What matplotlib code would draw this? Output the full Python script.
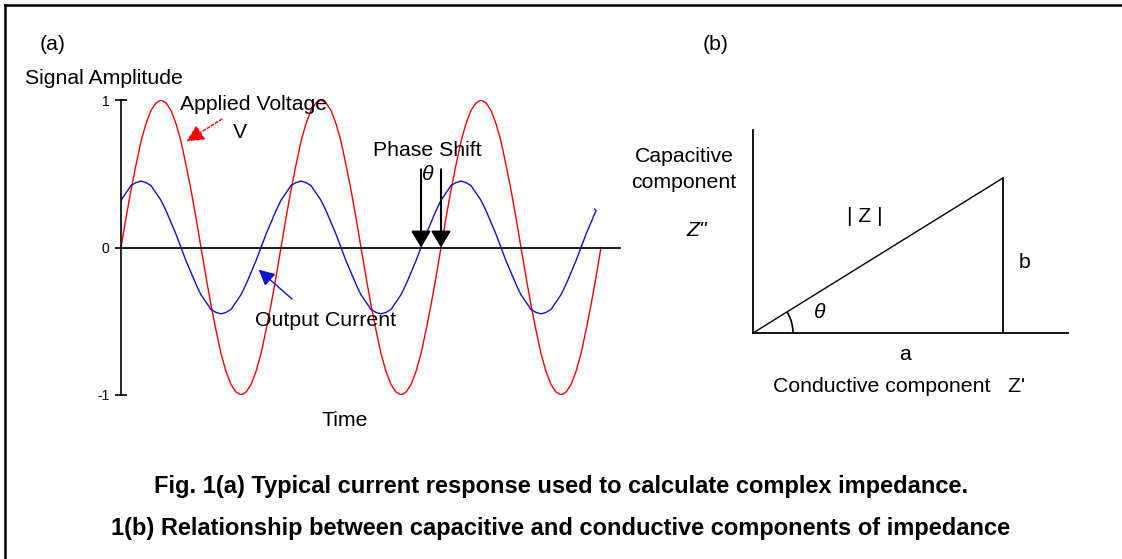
import numpy as np
import matplotlib
matplotlib.use("Agg")
import matplotlib.pyplot as plt
from matplotlib.lines import Line2D
from matplotlib.patches import Arc

plt.rcParams['font.family'] = ['Liberation Sans', 'DejaVu Sans']

# <codecell>
# data
# time is in periods of the applied voltage, one sample every 1/32 period
step = 1 / 32
n_cycles = 3
# one cycle of each trace (the picture repeats the same wave)
voltage_cycle = [0, 0.20, 0.39, 0.56, 0.72, 0.84, 0.93, 0.98,
                 1.0, 0.98, 0.93, 0.84, 0.72, 0.56, 0.39, 0.20,
                 0, -0.20, -0.39, -0.56, -0.72, -0.84, -0.93, -0.98,
                 -1.0, -0.98, -0.93, -0.84, -0.72, -0.56, -0.39, -0.20]
current_cycle = [0.32, 0.37, 0.42, 0.44, 0.45, 0.44, 0.42, 0.37,
                 0.32, 0.25, 0.17, 0.09, 0, -0.09, -0.17, -0.25,
                 -0.32, -0.37, -0.42, -0.44, -0.45, -0.44, -0.42, -0.37,
                 -0.32, -0.25, -0.17, -0.09, 0, 0.09, 0.17, 0.25]
voltage_end = 0
current_end = 0.26
current_end_t = 2.96
yticks = [-1, 0, 1]
ytick_labels = ['-1', '0', '1']
zero_current = 1.875   # current crosses zero (upward)
zero_voltage = 2.0     # voltage crosses zero (upward)

# impedance triangle
z_real = 1.0   # a
z_imag = 0.62  # b

voltage = voltage_cycle * n_cycles + [voltage_end]
current = current_cycle * n_cycles + [current_end]
t_v = np.arange(len(voltage)) * step
t_c = np.append(np.arange(len(current) - 1) * step, current_end_t)

# <codecell>
W, H = 1122, 559
fig = plt.figure(figsize=(W / 100, H / 100), dpi=100)

def px(x, y):
    return x / W, 1 - y / H

# frame (left and top only)
fig.add_artist(Line2D([5 / W, 5 / W], [0, 1 - 5 / H], color='black', lw=1.8))
fig.add_artist(Line2D([5 / W, 1], [1 - 5 / H, 1 - 5 / H], color='black', lw=1.8))

# <codecell>
# (a) waveforms
ax1 = fig.add_axes([121 / W, 1 - 395 / H, 500 / W, 295 / H])
ax1.plot(t_v, voltage, color='#ff0000', lw=1.0)
ax1.plot(t_c, current, color='#1010cc', lw=1.0)
ax1.axhline(0, color='#222222', lw=1.5)
ax1.set_xlim(0, 3.125)
ax1.set_ylim(-1, 1)
for s in ['top', 'right', 'bottom']:
    ax1.spines[s].set_visible(False)
ax1.spines['left'].set_linewidth(1.2)
ax1.set_xticks([])
ax1.set_yticks(yticks)
ax1.set_yticklabels(ytick_labels)
ax1.tick_params(axis='y', direction='inout', length=9, width=1.2, pad=4, labelsize=10)

# applied voltage arrow (dashed)
ax1.annotate('', xy=(0.41, 0.72), xytext=(0.63, 0.87),
             arrowprops=dict(arrowstyle='-|>,head_length=0.8,head_width=0.4',
                             color='red', lw=1.0, linestyle=(0, (2, 1.5)),
                             shrinkA=0, shrinkB=0, mutation_scale=13))
# output current arrow
ax1.annotate('', xy=(0.86, -0.15), xytext=(1.07, -0.35),
             arrowprops=dict(arrowstyle='-|>,head_length=0.8,head_width=0.4',
                             color='#1010cc', lw=1.0,
                             shrinkA=0, shrinkB=0, mutation_scale=12))
# phase shift arrows
for t0 in [zero_current, zero_voltage]:
    ax1.annotate('', xy=(t0, 0), xytext=(t0, 0.53),
                 arrowprops=dict(arrowstyle='-|>,head_length=1.0,head_width=0.6',
                                 color='black', lw=1.5,
                                 shrinkA=0, shrinkB=0, mutation_scale=10))

fs = 15.3
fig.text(*px(40, 45), '(a)', fontsize=fs, va='center')
fig.text(*px(25, 79), 'Signal Amplitude', fontsize=fs, va='center')
fig.text(*px(180, 104), 'Applied Voltage', fontsize=fs, va='center')
fig.text(*px(240, 132), 'V', fontsize=fs, va='center', ha='center')
fig.text(*px(373, 151), 'Phase Shift', fontsize=fs, va='center')
fig.text(*px(428, 175), 'θ', fontsize=fs, va='center', ha='center', style='italic')
fig.text(*px(255, 321), 'Output Current', fontsize=fs, va='center')
fig.text(*px(322, 420), 'Time', fontsize=fs, va='center')

# <codecell>
# (b) impedance triangle
ax2 = fig.add_axes([753 / W, 1 - 333 / H, 315 / W, 203 / H])
ax2.plot([0, z_real], [0, z_imag], color='black', lw=1.0)
ax2.plot([z_real, z_real], [0, z_imag], color='black', lw=1.3)
theta = np.degrees(np.arctan2(z_imag, z_real))
ax2.add_patch(Arc((0, 0), 0.32, 0.32, theta1=0, theta2=theta, color='black', lw=1.2))
ax2.set_xlim(0, 1.26)
ax2.set_ylim(0, 0.812)
for s in ['top', 'right']:
    ax2.spines[s].set_visible(False)
ax2.spines['left'].set_linewidth(1.3)
ax2.spines['bottom'].set_linewidth(1.3)
ax2.set_xticks([])
ax2.set_yticks([])

fig.text(*px(703, 45), '(b)', fontsize=fs, va='center')
fig.text(*px(684, 157), 'Capacitive', fontsize=fs, va='center', ha='center')
fig.text(*px(684, 182), 'component', fontsize=fs, va='center', ha='center')
fig.text(*px(697, 230), 'Z"', fontsize=fs, va='center', ha='center', style='italic')
fig.text(*px(865, 217), '| Z |', fontsize=fs, va='center', ha='center')
fig.text(*px(820, 313), 'θ', fontsize=fs, va='center', ha='center', style='italic')
fig.text(*px(1025, 263), 'b', fontsize=fs, va='center', ha='center')
fig.text(*px(905, 355), 'a', fontsize=fs, va='center', ha='center')
fig.text(*px(773, 387), "Conductive component   Z'", fontsize=fs, va='center')

# <codecell>
# caption
fig.text(*px(561, 486), 'Fig. 1(a) Typical current response used to calculate complex impedance.',
         fontsize=17, fontweight='bold', ha='center', va='center')
fig.text(*px(561, 529), '1(b) Relationship between capacitive and conductive components of impedance',
         fontsize=17, fontweight='bold', ha='center', va='center')

fig.savefig('out.png', dpi=100)
